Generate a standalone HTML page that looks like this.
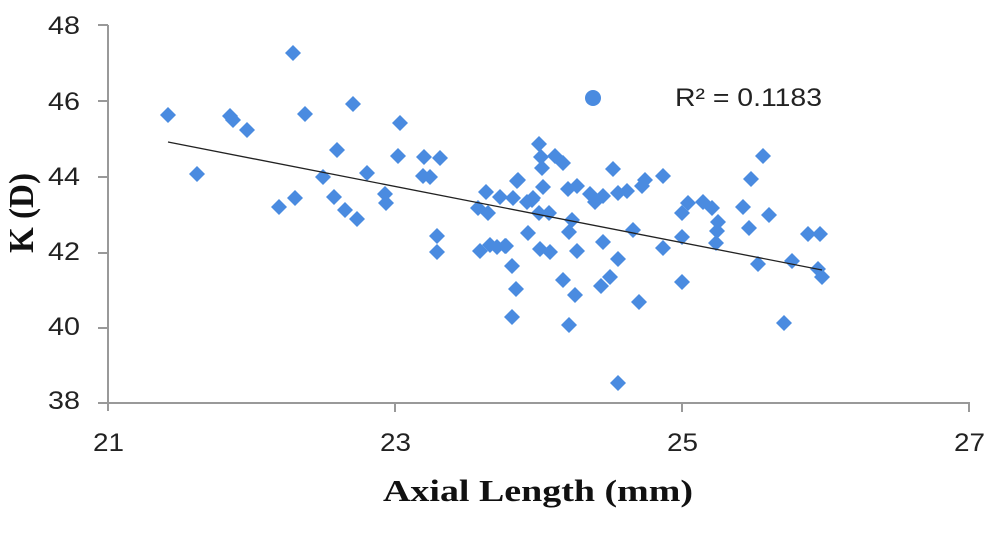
<!DOCTYPE html>
<html><head><style>body{margin:0;background:#fff}</style></head><body>
<svg width="1000" height="528" xmlns="http://www.w3.org/2000/svg">
<rect width="1000" height="528" fill="#fff"/>
<g stroke="#999" stroke-width="2" fill="none">
<line x1="108" y1="25" x2="108" y2="411"/>
<line x1="108" y1="403" x2="970" y2="403"/>
<line x1="98" y1="25" x2="108" y2="25"/>
<line x1="98" y1="101" x2="108" y2="101"/>
<line x1="98" y1="177" x2="108" y2="177"/>
<line x1="98" y1="253" x2="108" y2="253"/>
<line x1="98" y1="328" x2="108" y2="328"/>
<line x1="98" y1="403" x2="108" y2="403"/>
<line x1="395" y1="403" x2="395" y2="412"/>
<line x1="682" y1="403" x2="682" y2="412"/>
<line x1="969" y1="403" x2="969" y2="412"/>
</g>
<g font-family="Liberation Sans, sans-serif" font-size="25" fill="#222" text-anchor="end" lengthAdjust="spacingAndGlyphs">
<text x="80" y="34" textLength="32" lengthAdjust="spacingAndGlyphs">48</text><text x="80" y="110" textLength="32" lengthAdjust="spacingAndGlyphs">46</text><text x="80" y="185" textLength="32" lengthAdjust="spacingAndGlyphs">44</text>
<text x="80" y="260" textLength="32" lengthAdjust="spacingAndGlyphs">42</text><text x="80" y="335" textLength="32" lengthAdjust="spacingAndGlyphs">40</text><text x="80" y="409" textLength="32" lengthAdjust="spacingAndGlyphs">38</text>
</g>
<g font-family="Liberation Sans, sans-serif" font-size="25" fill="#222">
<text x="93" y="451" textLength="31" lengthAdjust="spacingAndGlyphs">21</text><text x="380" y="451" textLength="31" lengthAdjust="spacingAndGlyphs">23</text><text x="667" y="451" textLength="31" lengthAdjust="spacingAndGlyphs">25</text><text x="954" y="451" textLength="31" lengthAdjust="spacingAndGlyphs">27</text>
</g>
<text x="0" y="0" transform="translate(33,213) rotate(-90)" font-family="Liberation Serif, serif" font-weight="bold" font-size="35" text-anchor="middle" fill="#111" textLength="80" lengthAdjust="spacingAndGlyphs">K (D)</text>
<text x="383" y="501" font-family="Liberation Serif, serif" font-weight="bold" font-size="31" fill="#111" textLength="310" lengthAdjust="spacingAndGlyphs">Axial Length (mm)</text>
<text x="675" y="106" font-family="Liberation Sans, sans-serif" font-size="25" fill="#222" textLength="147" lengthAdjust="spacingAndGlyphs">R² = 0.1183</text>
<circle cx="593" cy="98" r="8" fill="#4a8be0"/>
<g fill="#4a8be0" id="pts"></g>
<line x1="168" y1="142" x2="822" y2="270" stroke="#222" stroke-width="1.3"/>
</svg>
<script>
var p=[[168,115],[197,174],[230,116],[233,120],[247,130],[293,53],[305,114],[353,104],[400,123],[279,207],[295,198],[337,150],[323,177],[367,173],[334,197],[345,210],[357,219],[398,156],[385,194],[386,203],[424,157],[440,158],[423,176],[430,177],[437,236],[437,252],[486,192],[478,208],[488,213],[480,251],[490,245],[497,247],[506,246],[512,266],[516,289],[512,317],[500,197],[513,198],[527,202],[533,198],[517,181],[539,144],[541,157],[542,168],[543,187],[539,213],[528,233],[540,249],[555,156],[563,163],[518,180],[613,169],[663,176],[645,180],[642,186],[568,189],[577,186],[590,194],[595,202],[603,196],[618,193],[627,191],[532,200],[549,213],[572,220],[569,232],[633,230],[682,213],[688,203],[703,202],[712,208],[718,222],[717,231],[716,243],[682,237],[663,248],[603,242],[618,259],[577,251],[550,252],[505,246],[563,280],[575,295],[569,325],[610,277],[601,286],[639,302],[682,282],[618,383],[763,156],[751,179],[743,207],[769,215],[749,228],[758,264],[792,261],[808,234],[820,234],[818,269],[822,277],[784,323]];
var g=document.getElementById('pts'),s='';
p.forEach(function(a){var x=a[0],y=a[1];s+='<polygon points="'+x+','+(y-8)+' '+(x+8)+','+y+' '+x+','+(y+8)+' '+(x-8)+','+y+'"/>';});
g.innerHTML=s;
</script>
</body></html>
